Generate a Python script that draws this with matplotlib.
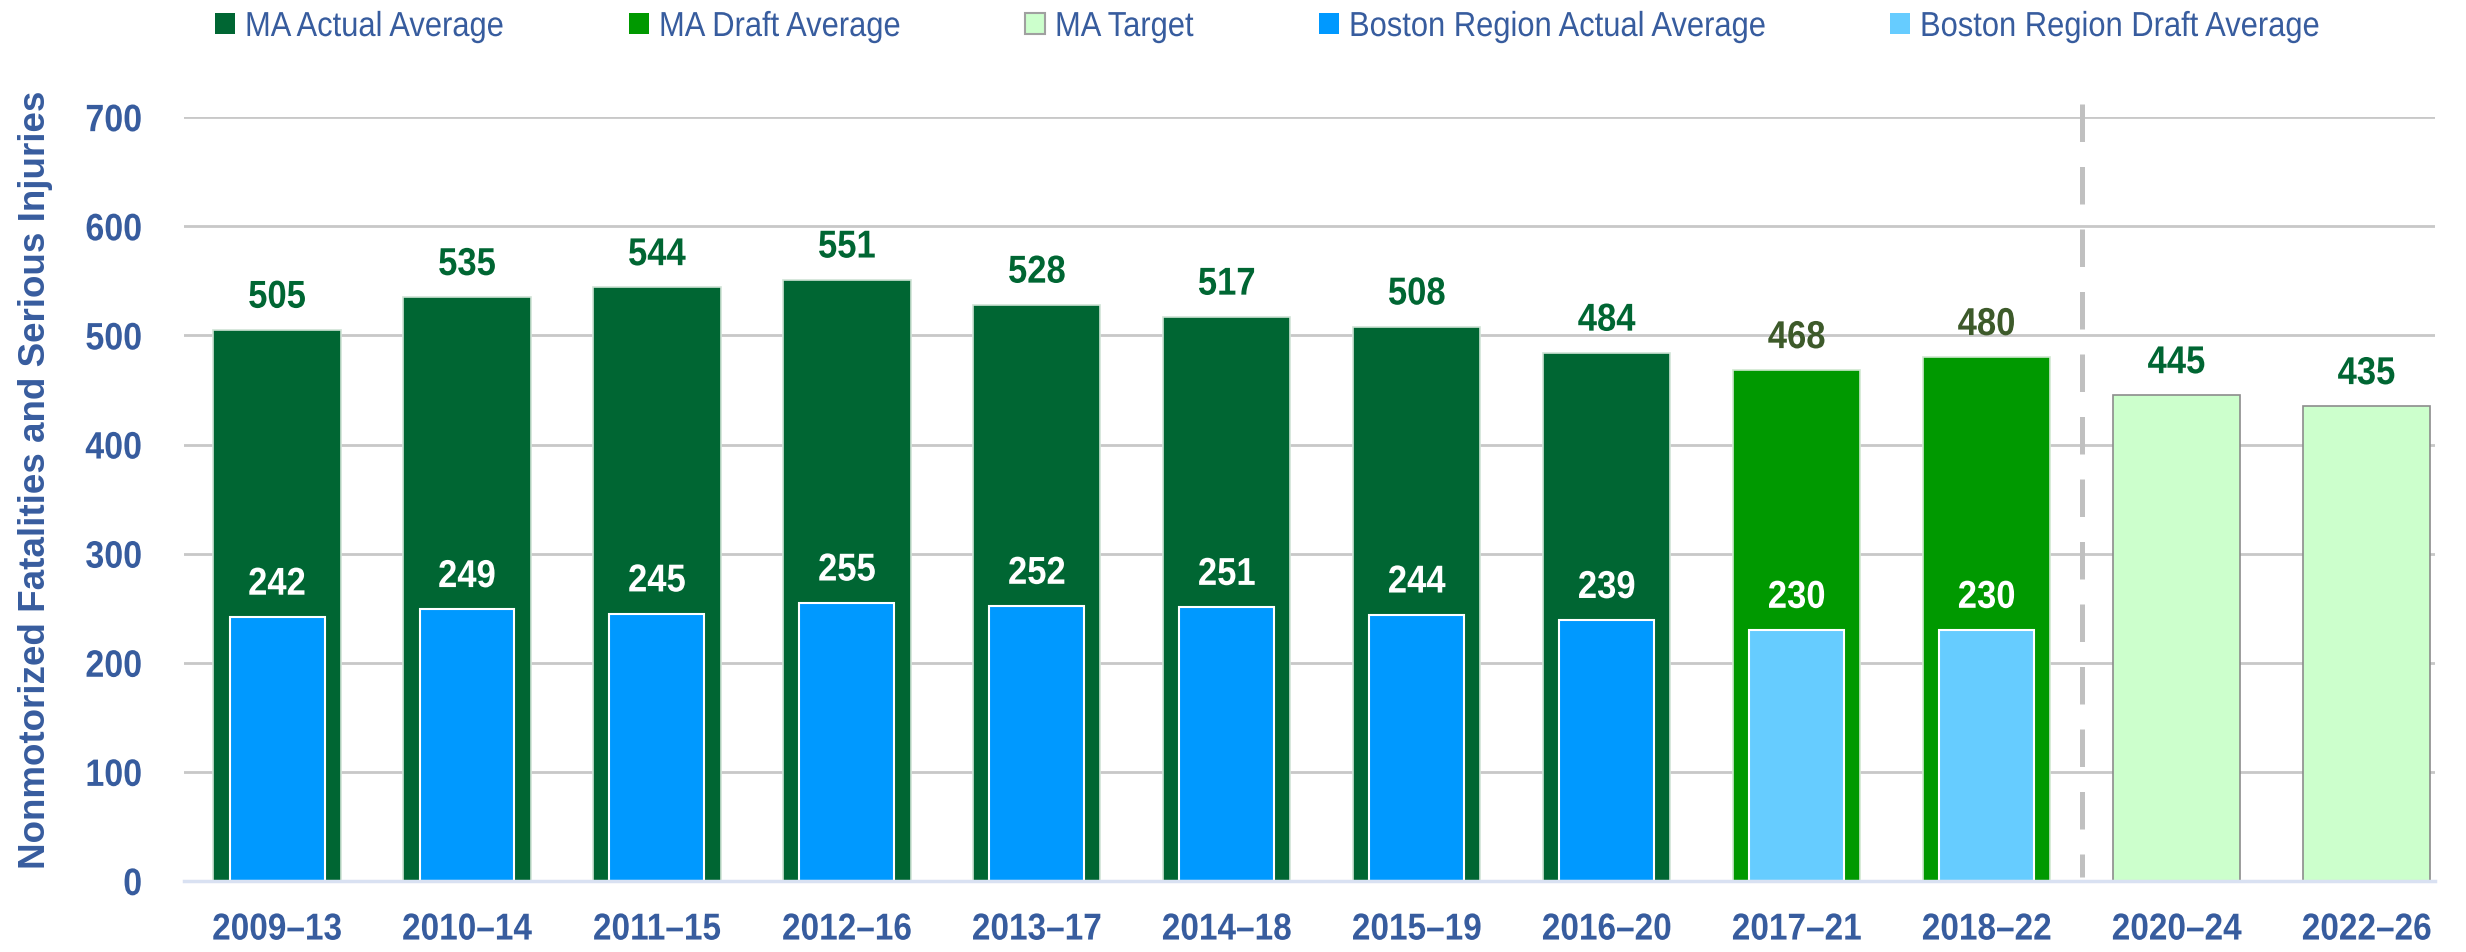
import matplotlib
matplotlib.use("Agg")
import matplotlib.pyplot as plt
from matplotlib.patches import Rectangle
from matplotlib.patheffects import AbstractPathEffect
from matplotlib.transforms import Affine2D

categories = ['2009–13', '2010–14', '2011–15', '2012–16', '2013–17', '2014–18',
              '2015–19', '2016–20', '2017–21', '2018–22', '2020–24', '2022–26']
ma_values = [505, 535, 544, 551, 528, 517, 508, 484, 468, 480, 445, 435]
ma_kind = ['actual'] * 8 + ['draft'] * 2 + ['target'] * 2
boston_values = [242, 249, 245, 255, 252, 251, 244, 239, 230, 230]
boston_kind = ['actual'] * 8 + ['draft'] * 2
legend_labels = ['MA Actual Average', 'MA Draft Average', 'MA Target',
                 'Boston Region Actual Average', 'Boston Region Draft Average']
yticks = [0, 100, 200, 300, 400, 500, 600, 700]
ylabel = 'Nonmotorized Fatalities and Serious Injuries'

FONT = 'Liberation Sans'
BLUE_TXT = '#375C9E'
ma_face = {'actual': '#006633', 'draft': '#009900', 'target': '#CCFFCC'}
ma_edge = {'actual': '#CFE3D6', 'draft': '#CFE8CF', 'target': '#8C8C8C'}
ma_lbl = {'actual': '#006633', 'draft': '#3D5A2A', 'target': '#006633'}
bos_face = {'actual': '#0099FF', 'draft': '#66CCFF'}


class Squeeze(AbstractPathEffect):
    """Horizontally condense glyph outlines (narrow typeface look)."""
    def __init__(self, sx=0.89, anchor='center'):
        super().__init__()
        self.sx = sx
        self.anchor = anchor

    def draw_path(self, renderer, gc, tpath, affine, rgbFace=None):
        ext = tpath.get_extents()
        if self.anchor == 'left':
            cx = 0.0
        elif self.anchor == 'right':
            cx = ext.x1
        else:
            cx = 0.5 * (ext.x0 + ext.x1)
        t = Affine2D().translate(-cx, 0).scale(self.sx, 1).translate(cx, 0) + affine
        renderer.draw_path(gc, tpath, t, rgbFace)


fig = plt.figure(figsize=(24.66, 9.53), dpi=100)
ax = fig.add_axes([0.0746, 0.0745, 0.9128, 0.8015])

x = list(range(len(categories)))
for i, (v, k) in enumerate(zip(ma_values, ma_kind)):
    ax.bar(i, v, width=0.67, color=ma_face[k], edgecolor=ma_edge[k], linewidth=1.2, zorder=2)
    ax.annotate(str(v), (i, v), xytext=(0, 16), textcoords='offset points',
                ha='center', va='baseline', fontsize=28, fontweight='bold',
                color=ma_lbl[k], family=FONT, zorder=4, path_effects=[Squeeze()])
for i, (v, k) in enumerate(zip(boston_values, boston_kind)):
    ax.bar(i, v, width=0.5, color=bos_face[k], edgecolor='white', linewidth=1.5, zorder=3)
    ax.annotate(str(v), (i, v), xytext=(0, 16), textcoords='offset points',
                ha='center', va='baseline', fontsize=28, fontweight='bold',
                color='white', family=FONT, zorder=4, path_effects=[Squeeze()])

ax.plot([9.5, 9.5], [712, 4], color='#C0C0C0', lw=3.6, ls=(0, (7.5, 5.0)),
        zorder=1, clip_on=False)

ax.set_ylim(0, 700)
ax.set_xlim(-0.49, 11.36)
ax.set_yticks(yticks)
ax.set_yticklabels([str(t) for t in yticks], fontsize=27.5, fontweight='bold',
                   color=BLUE_TXT, family=FONT)
for lab in ax.get_yticklabels():
    lab.set_path_effects([Squeeze(anchor='right')])
ax.set_xticks(x)
ax.set_xticklabels(categories, fontsize=27, fontweight='bold', color=BLUE_TXT, family=FONT)
for lab in ax.get_xticklabels():
    lab.set_path_effects([Squeeze()])
ax.tick_params(axis='both', length=0)
ax.tick_params(axis='y', pad=30)
ax.tick_params(axis='x', pad=22)
ax.grid(axis='y', color='#C8C8C8', lw=2, zorder=0)
ax.set_axisbelow(True)
for s in ['top', 'right', 'left']:
    ax.spines[s].set_visible(False)
ax.spines['bottom'].set_color('#D9E1F2')
ax.spines['bottom'].set_linewidth(2.5)
ax.spines['bottom'].set_zorder(5)

fig.text(0.0145, 0.496, ylabel, rotation=90, ha='center', va='center',
         fontsize=26.5, fontweight='bold', color=BLUE_TXT, family=FONT)

# legend row (positions in figure pixels)
W, H = fig.get_size_inches() * fig.dpi
leg_faces = [ma_face['actual'], ma_face['draft'], ma_face['target'],
             bos_face['actual'], bos_face['draft']]
leg_edges = ['none', 'none', '#A0A0A0', 'none', 'none']
leg_x = [215, 629, 1025, 1319, 1890]
yc = 24.5
for lx, fc, ec, lab in zip(leg_x, leg_faces, leg_edges, legend_labels):
    fig.patches.append(Rectangle((lx / W, 1 - (yc + 10) / H), 20 / W, 21 / H,
                                 transform=fig.transFigure, facecolor=fc,
                                 edgecolor=ec, linewidth=1.5))
    fig.text((lx + 30) / W, 1 - (yc + 12.5) / H, lab, ha='left', va='baseline',
             fontsize=25, color=BLUE_TXT, family=FONT,
             path_effects=[Squeeze(anchor='left')])

fig.savefig('out.png', dpi=100, facecolor='white')
